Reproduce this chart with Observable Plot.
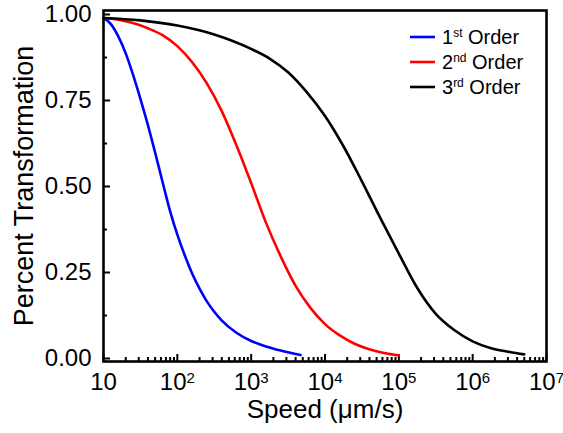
<!DOCTYPE html>
<html><head><meta charset="utf-8">
<script src="https://cdn.jsdelivr.net/npm/d3@7"></script>
<script src="https://cdn.jsdelivr.net/npm/@observablehq/plot@0.6"></script>
<style>body{margin:0;background:#fff} svg{display:block}</style>
</head><body><div id="chart"></div>
<script>
// ---- data ----
const speed1 = [10, 12.6, 15.8, 20, 25.1, 31.6, 39.8, 50.1, 63.1, 79.4, 100, 126, 158, 200, 251, 316, 398, 631, 1000, 1585, 2512, 4680];
const frac1  = [0.99, 0.972, 0.937, 0.887, 0.825, 0.755, 0.68, 0.598, 0.513, 0.43, 0.36, 0.30, 0.248, 0.203, 0.166, 0.136, 0.111, 0.075, 0.051, 0.035, 0.023, 0.01];

const speed2 = [10, 15.8, 25.1, 39.8, 63.1, 100, 158, 251, 398, 631, 1000, 1585, 2512, 3981, 6310, 10000, 15850, 25120, 39810, 63100, 100000];
const frac2  = [0.99, 0.985, 0.975, 0.96, 0.94, 0.908, 0.862, 0.80, 0.72, 0.62, 0.51, 0.395, 0.297, 0.212, 0.148, 0.10, 0.067, 0.043, 0.027, 0.016, 0.009];

const speed3 = [10, 31.6, 100, 316, 1000, 1778, 3162, 5623, 10000, 17780, 31620, 56230, 100000, 177800, 316200, 562300, 1000000, 1778000, 3162000, 5000000];
const frac3  = [0.99, 0.983, 0.968, 0.942, 0.90, 0.872, 0.832, 0.775, 0.705, 0.617, 0.515, 0.408, 0.305, 0.205, 0.13, 0.083, 0.05, 0.03, 0.019, 0.012];

const seriesNames  = ["1st Order", "2nd Order", "3rd Order"];
const seriesColors = ["#0000ff", "#ff0000", "#000000"];

const xTickValues = [10, 1e2, 1e3, 1e4, 1e5, 1e6, 1e7];
const xTickLabels = ["10", "10^2", "10^3", "10^4", "10^5", "10^6", "10^7"];
const yTickValues = [0, 0.25, 0.5, 0.75, 1];
const yTickLabels = ["0.00", "0.25", "0.50", "0.75", "1.00"];
const yMinorTicks = [0.125, 0.375, 0.625, 0.875];
const xTitle = "Speed (μm/s)";
const yTitle = "Percent Transformation";

// ---- build table ----
const rows = [];
[[speed1, frac1], [speed2, frac2], [speed3, frac3]].forEach(([s, f], i) => {
  s.forEach((v, j) => rows.push({speed: v, frac: f[j], series: seriesNames[i]}));
});
const xMinorTicks = [];
for (let k = 1; k < 7; k++) for (let m = 2; m <= 9; m++) xMinorTicks.push(m * Math.pow(10, k));

const W = 563, H = 433, mL = 103, mR = 17, mT = 10, mB = 72;
const innerW = W - mL - mR, innerH = H - mT - mB;
const font = "Arial, 'Liberation Sans', sans-serif";

const chart = Plot.plot({
  width: W, height: H,
  marginLeft: mL, marginRight: mR, marginTop: mT, marginBottom: mB,
  style: {fontFamily: font, fontSize: "24px", color: "#000", background: "#fff"},
  x: {type: "log", domain: [10, 1e7], ticks: xTickValues, tickSize: 0, tickPadding: 11,
      tickFormat: d => xTickLabels[xTickValues.findIndex(t => Math.abs(t - d) / t < 1e-6)], label: null},
  y: {domain: [-3/344, 1 + 4/344], ticks: yTickValues, tickSize: 0, tickPadding: 12,
      tickFormat: d => yTickLabels[yTickValues.findIndex(t => Math.abs(t - d) < 1e-9)], label: null},
  color: {domain: seriesNames, range: seriesColors},
  marks: [
    Plot.ruleX(xTickValues, {x: d => d, insetTop: innerH - 7, stroke: "#000", strokeWidth: 2}),
    Plot.ruleX(xMinorTicks, {x: d => d, insetTop: innerH - 4, stroke: "#000", strokeWidth: 2}),
    Plot.ruleY(yTickValues, {y: d => d, insetRight: innerW - 7, stroke: "#000", strokeWidth: 2}),
    Plot.ruleY(yMinorTicks, {y: d => d, insetRight: innerW - 4, stroke: "#000", strokeWidth: 2}),
    Plot.line(rows, {x: "speed", y: "frac", z: "series", stroke: "series", strokeWidth: 2.6, curve: "monotone-x"}),
    Plot.frame({stroke: "#000", strokeWidth: 2.6}),
    Plot.text([xTitle], {text: d => d, frameAnchor: "bottom", textAnchor: "middle", dy: 56, fontSize: 26}),
    Plot.text([yTitle], {text: d => d, frameAnchor: "left", textAnchor: "middle", dx: -79, rotate: -90, fontSize: 27})
  ]
});
document.getElementById("chart").appendChild(chart);

// superscript exponents for x tick labels
const svg = d3.select(chart.tagName === "svg" ? chart : chart.querySelector("svg"));
svg.selectAll("text").each(function() {
  const t = this.textContent;
  const m = /^10\^(\d)$/.exec(t);
  if (m && this.childElementCount === 0) {
    const el = d3.select(this);
    el.text("10");
    el.append("tspan").attr("dy", "-0.45em").attr("font-size", "15px").text(m[1]);
  }
});

// legend inside the plot
const lg = svg.append("g").attr("font-family", font).attr("text-anchor", "start");
const sups = ["st", "nd", "rd"], nums = ["1", "2", "3"];
seriesNames.forEach((name, i) => {
  const y = 37 + i * 25;
  lg.append("line").attr("x1", 410).attr("x2", 435).attr("y1", y).attr("y2", y)
    .attr("stroke", seriesColors[i]).attr("stroke-width", 2.6);
  const tx = lg.append("text").attr("x", 442).attr("y", y + 7).attr("font-size", "20px").attr("text-anchor", "start");
  tx.append("tspan").text(nums[i]);
  tx.append("tspan").attr("font-size", "12px").attr("dy", "-7").text(sups[i]);
  tx.append("tspan").attr("font-size", "20px").attr("dy", "7").text(" Order");
});
</script></body></html>
